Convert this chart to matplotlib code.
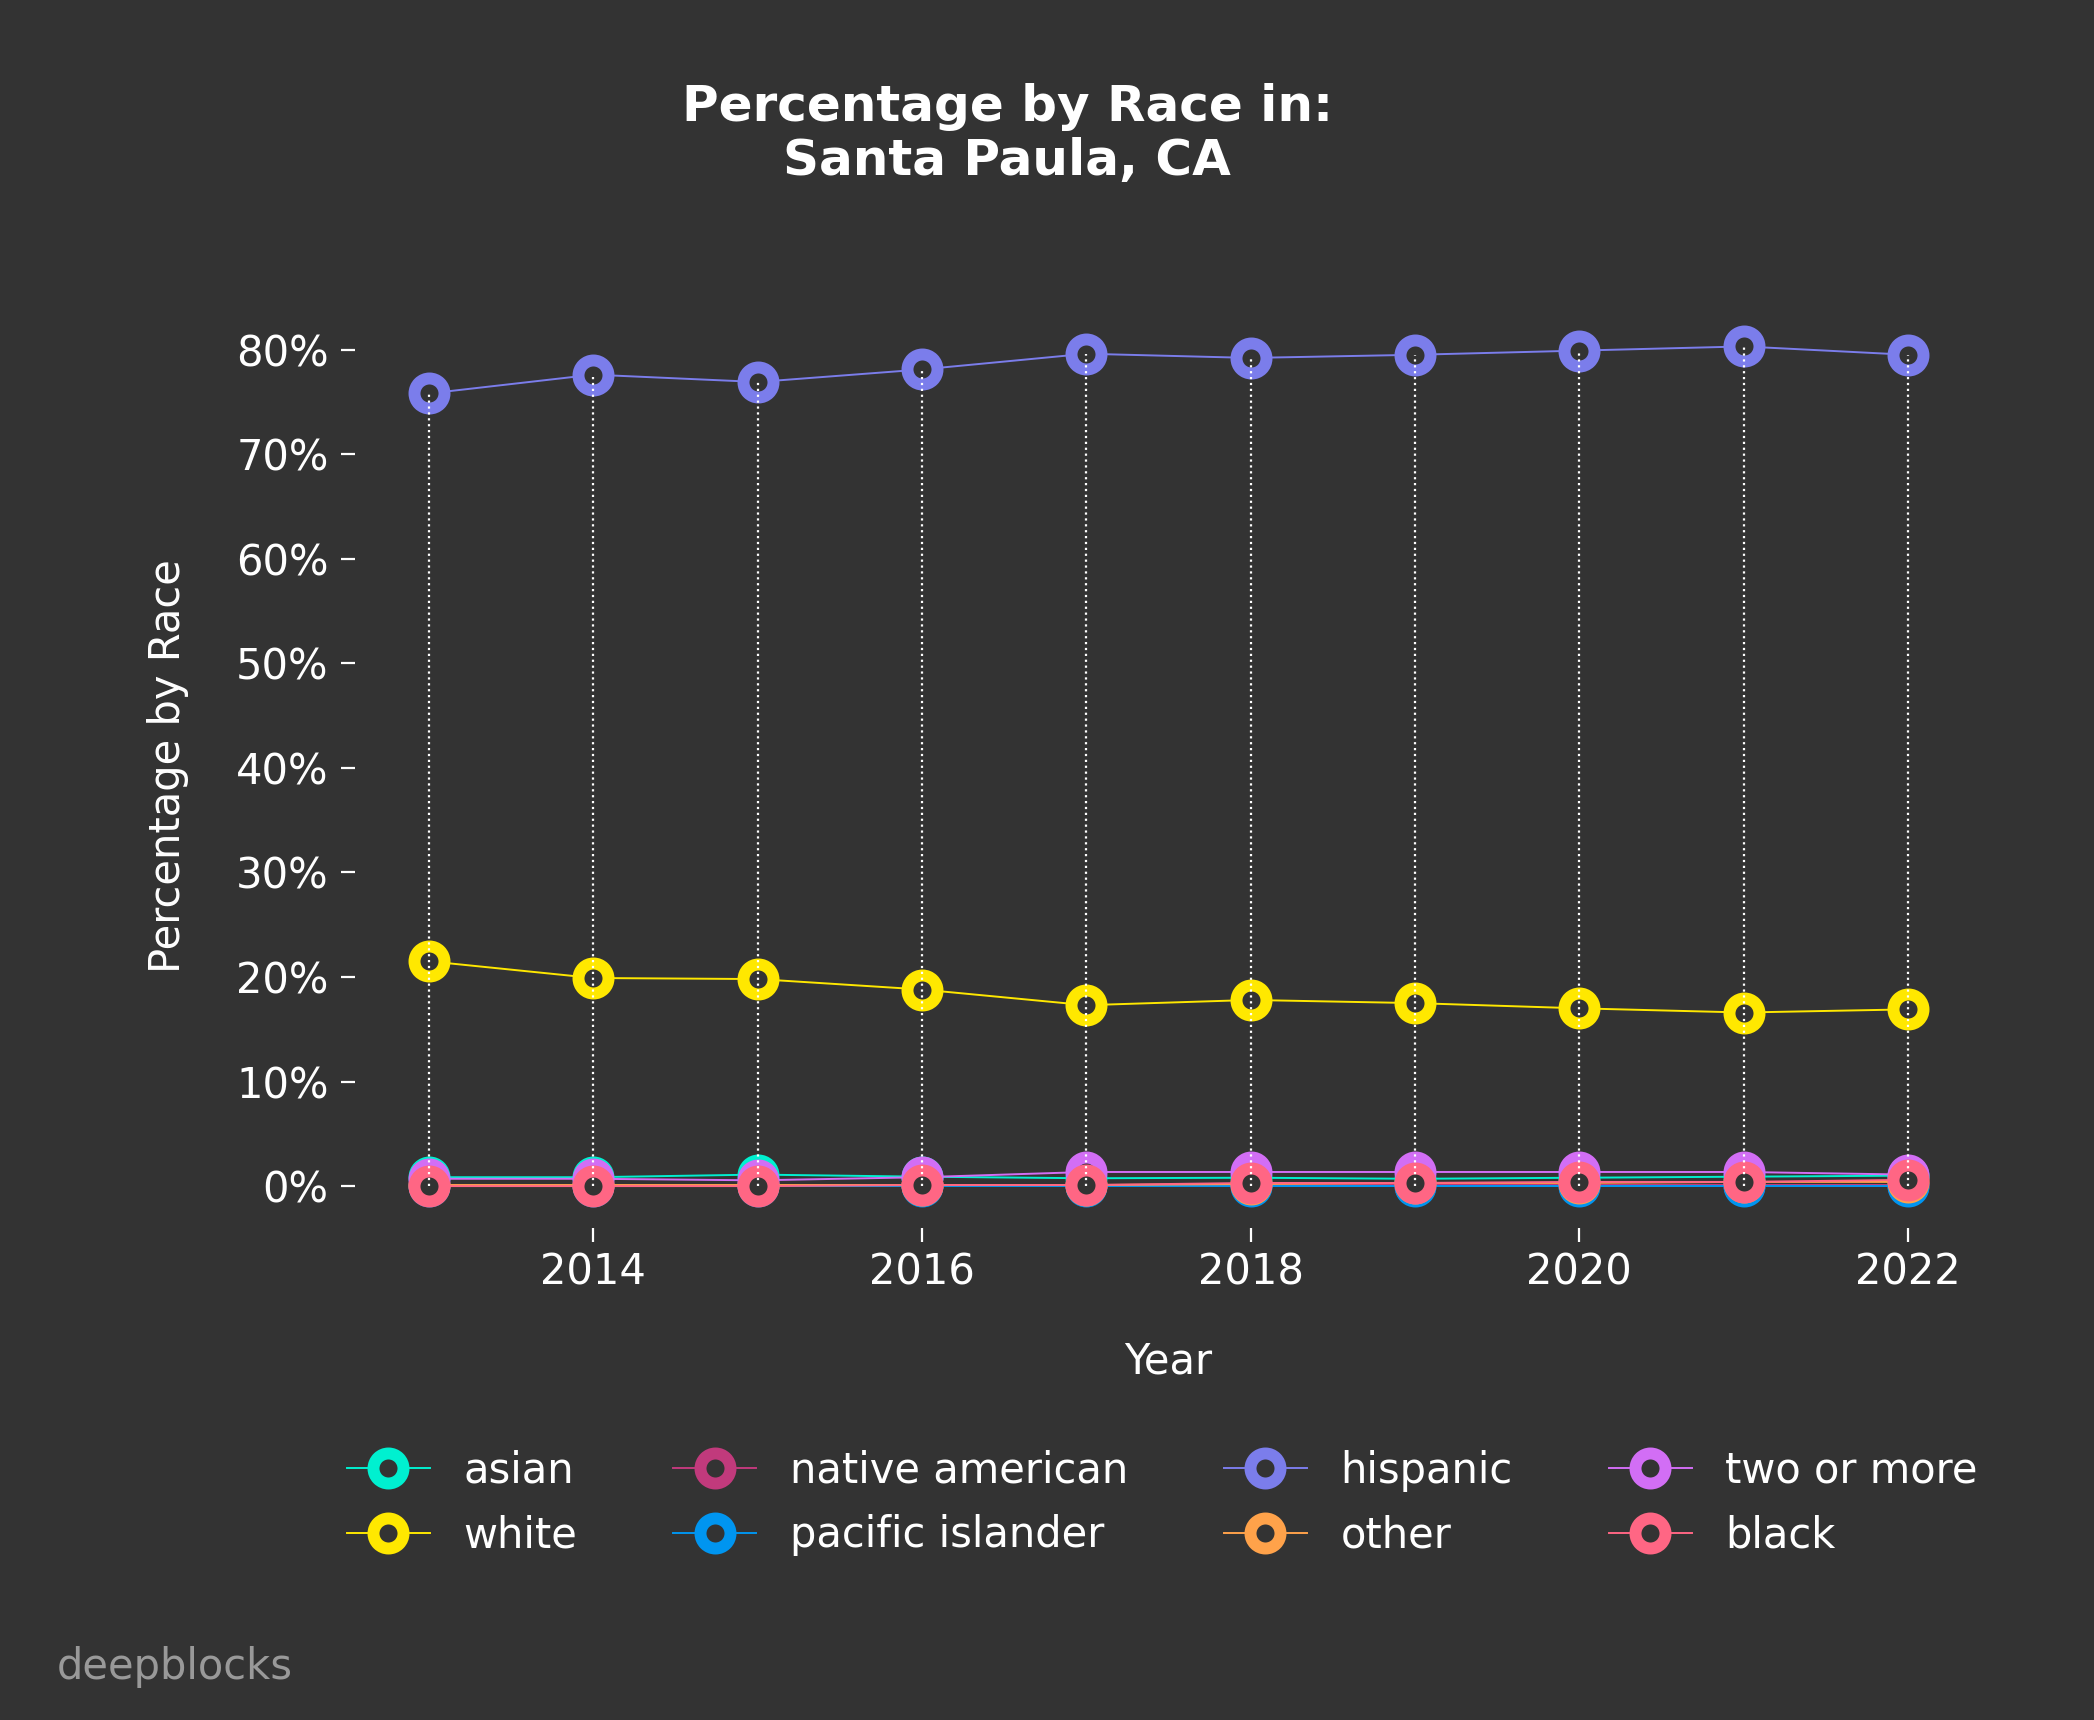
import matplotlib
matplotlib.use('Agg')
import matplotlib.pyplot as plt
from matplotlib.ticker import FuncFormatter

# values (percent of population)
years = [2013, 2014, 2015, 2016, 2017, 2018, 2019, 2020, 2021, 2022]
asian = [0.85, 0.85, 1.1, 0.9, 0.75, 0.8, 0.7, 0.8, 0.9, 1.0]
white = [21.5, 19.9, 19.8, 18.8, 17.3, 17.8, 17.5, 17.0, 16.6, 16.9]
native_american = [0.1, 0.1, 0.1, 0.1, 0.1, 0.1, 0.1, 0.1, 0.1, 0.1]
pacific_islander = [0.0, 0.0, 0.0, 0.0, 0.0, 0.0, 0.0, 0.0, 0.0, 0.0]
hispanic = [75.8, 77.6, 76.9, 78.1, 79.6, 79.2, 79.5, 79.9, 80.3, 79.5]
other = [0.1, 0.1, 0.1, 0.1, 0.1, 0.2, 0.3, 0.3, 0.4, 0.4]
two_or_more = [0.7, 0.7, 0.55, 0.85, 1.35, 1.35, 1.35, 1.35, 1.35, 1.1]
black = [0.0, 0.0, 0.0, 0.1, 0.1, 0.3, 0.3, 0.4, 0.4, 0.6]

series = [
    ('asian', asian, '#00F0D0'),
    ('white', white, '#FFE800'),
    ('native american', native_american, '#C13A7C'),
    ('pacific islander', pacific_islander, '#0095F0'),
    ('hispanic', hispanic, '#7B7DEB'),
    ('other', other, '#FFA24A'),
    ('two or more', two_or_more, '#D26EF5'),
    ('black', black, '#FF6684'),
]

bg = '#333333'
fig = plt.figure(figsize=(10.47, 8.6), dpi=200, facecolor=bg)
ax = fig.add_axes([0.1695, 0.286, 0.777, 0.537])
ax.set_facecolor(bg)

for name, vals, col in series:
    ax.plot(years, vals, color=col, lw=0.7, marker='o', markersize=10.8,
            markeredgewidth=4.3, markerfacecolor=bg, markeredgecolor=col,
            label=name, zorder=2)

# dotted range lines per year
lo = [min(v[i] for _, v, _ in series) for i in range(len(years))]
hi = [max(v[i] for _, v, _ in series) for i in range(len(years))]
ax.vlines(years, lo, hi, colors='white', linestyles=':', lw=0.8, zorder=3)

for s in ax.spines.values():
    s.set_visible(False)
ax.set_yticks(range(0, 81, 10))
ax.yaxis.set_major_formatter(FuncFormatter(lambda v, p: f'{v:.0f}%'))
ax.set_xticks([2014, 2016, 2018, 2020, 2022])
ax.tick_params(colors='white', labelsize=15, length=5, width=0.8)
ax.tick_params(axis='y', pad=4.5)
ax.set_xlabel('Year', color='white', fontsize=15, labelpad=17)
ax.set_ylabel('Percentage by Race', color='white', fontsize=15, labelpad=17)

fig.text(0.481, 0.922, 'Percentage by Race in:\nSanta Paula, CA', ha='center', va='center',
         color='white', fontsize=18, fontweight='bold', linespacing=1.15)

leg = fig.legend(loc='center', bbox_to_anchor=(0.555, 1 - 1503 / 1720), ncol=4,
                 frameon=False, fontsize=15, columnspacing=2.3, labelspacing=0.55,
                 handlelength=2.0, handletextpad=0.8)
for t in leg.get_texts():
    t.set_color('white')

fig.text(0.027, 1 - 1667 / 1720, 'deepblocks', color='#999999', fontsize=15,
         ha='left', va='center')

fig.savefig('out.png', dpi=200, facecolor=bg)
